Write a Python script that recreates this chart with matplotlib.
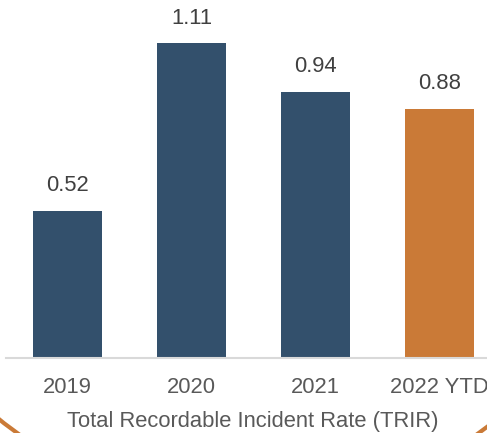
import matplotlib
matplotlib.use("Agg")
import matplotlib.pyplot as plt
from matplotlib.patches import Ellipse

categories = ["2019", "2020", "2021", "2022 YTD"]
values = [0.52, 1.11, 0.94, 0.88]
value_labels = ["0.52", "1.11", "0.94", "0.88"]
bar_colors = ["#33506C", "#33506C", "#33506C", "#CA7A37"]
title = "Total Recordable Incident Rate (TRIR)"

plt.rcParams['font.family'] = ['Liberation Sans', 'DejaVu Sans']

fig = plt.figure(figsize=(4.87, 4.33), dpi=100)
ax = fig.add_axes([5.5 / 487, 1 - 358 / 433, 481.5 / 487, 340 / 433])

x = list(range(len(categories)))
bars = ax.bar(x, values, width=0.556, color=bar_colors, zorder=2)
for xi, v, lab in zip(x, values, value_labels):
    ax.annotate(lab, (xi, v), xytext=(0, 10.3), textcoords="offset points",
                ha="center", va="bottom", fontsize=15.8, color="#404040")

ax.set_xlim(-0.5, 3.383)
ax.set_ylim(0, 1.2)
ax.set_xticks(x)
ax.set_xticklabels(categories, fontsize=15.8, color="#595959")
ax.tick_params(axis="x", length=0, pad=14)
ax.set_yticks([])
for s in ["top", "right", "left"]:
    ax.spines[s].set_visible(False)
ax.spines["bottom"].set_color("#D9D9D9")
ax.spines["bottom"].set_linewidth(1.5)
ax.set_facecolor("none")

fig.text(253 / 487, 1 - 427 / 433, title, ha="center", va="baseline",
         fontsize=15.8, color="#595959")

# decorative orange ring framing the chart
ring = Ellipse((248 / 487, 1 - 110 / 433), 2 * 397 / 487, 2 * 397 / 433,
               transform=fig.transFigure, fill=False, edgecolor="#CA7A37",
               linewidth=3.0, zorder=0)
fig.add_artist(ring)

fig.savefig("out.png", dpi=100)
